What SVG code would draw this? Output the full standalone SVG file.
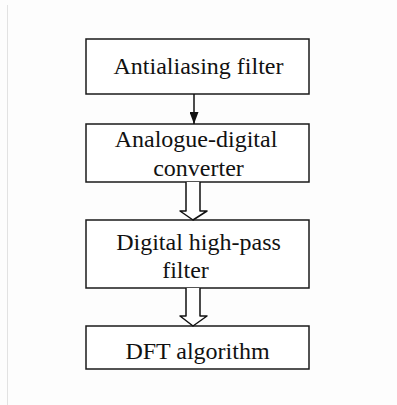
<svg xmlns="http://www.w3.org/2000/svg" width="397" height="405" viewBox="0 0 397 405">
  <style>
    .box { fill: #ffffff; stroke: #1a1a1a; stroke-width: 1.5; }
    .lbl { font-family: "Liberation Serif", "Times New Roman", serif; font-size: 24px; fill: #111111; text-anchor: middle; }
    .wire { stroke: #111111; stroke-width: 1.5; fill: none; }
    .hollow { fill: #ffffff; stroke: #111111; stroke-width: 1.5; stroke-linejoin: round; }
  </style>
  <defs>
    <marker id="tri" viewBox="0 0 12 9" refX="12" refY="4.5" markerWidth="12" markerHeight="9" markerUnits="userSpaceOnUse" orient="auto">
      <path d="M0,0 L12,4.5 L0,9 Z" fill="#111111"/>
    </marker>
  </defs>
  <rect x="0" y="0" width="397" height="405" fill="#fdfdfd"/>
  <line x1="7.5" y1="5" x2="7.5" y2="405" stroke="#e2e2e2" stroke-width="1"/>

  <g id="node-antialiasing">
    <rect class="box" x="86" y="39" width="223" height="55"/>
    <text class="lbl" x="198.5" y="74">Antialiasing filter</text>
  </g>
  <g id="node-adc">
    <rect class="box" x="86" y="124" width="223" height="58"/>
    <text class="lbl" x="196" y="147">Analogue-digital</text>
    <text class="lbl" x="198.5" y="176">converter</text>
  </g>
  <g id="node-highpass">
    <rect class="box" x="86" y="220" width="223" height="68"/>
    <text class="lbl" x="198.5" y="250">Digital high-pass</text>
    <text class="lbl" x="185.5" y="278">filter</text>
  </g>
  <g id="node-dft">
    <rect class="box" x="86" y="326" width="223" height="43"/>
    <text class="lbl" x="197.5" y="359">DFT algorithm</text>
  </g>

  <g id="connectors">
    <line class="wire" x1="194" y1="94" x2="194" y2="124" marker-end="url(#tri)"/>
    <path class="hollow" d="M186,182 L186,211 L180,211 L193,220 L207,211 L200,211 L200,182"/>
    <path class="hollow" d="M186,288 L186,316 L180,316 L193,326 L207,316 L200,316 L200,288"/>
  </g>
</svg>
